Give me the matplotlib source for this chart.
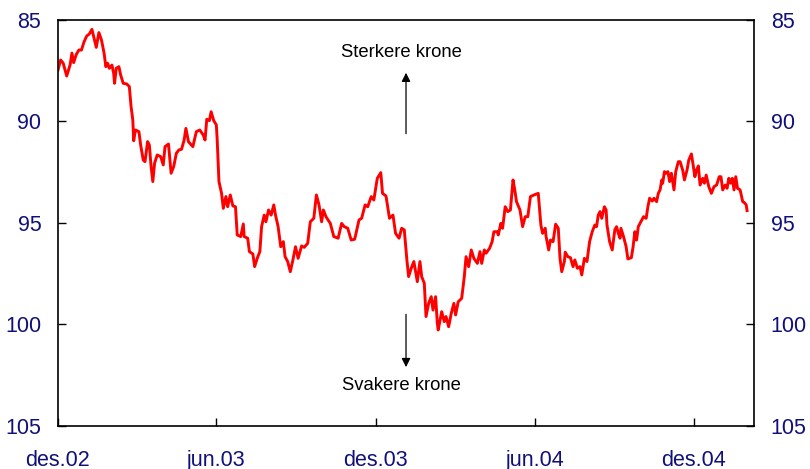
import pandas as pd
import matplotlib
matplotlib.use("Agg")
import matplotlib.pyplot as plt

plt.rcParams['font.family'] = ['Liberation Sans', 'DejaVu Sans']

# Kronekurs (indeks), lest av fra figuren
dates = [
    "2002-12-01", "2002-12-04", "2002-12-07", "2002-12-11", "2002-12-15", "2002-12-17",
    "2002-12-19", "2002-12-22", "2002-12-25", "2002-12-28", "2002-12-31", "2003-01-03",
    "2003-01-06", "2003-01-09", "2003-01-11", "2003-01-14", "2003-01-17", "2003-01-20",
    "2003-01-23", "2003-01-25", "2003-01-27", "2003-01-29", "2003-02-01", "2003-02-03",
    "2003-02-04", "2003-02-06", "2003-02-09", "2003-02-11", "2003-02-14", "2003-02-18",
    "2003-02-21", "2003-02-23", "2003-02-25", "2003-02-26", "2003-02-28", "2003-03-04",
    "2003-03-06", "2003-03-09", "2003-03-11", "2003-03-14", "2003-03-16", "2003-03-18",
    "2003-03-20", "2003-03-22", "2003-03-25", "2003-03-29", "2003-04-01", "2003-04-03",
    "2003-04-07", "2003-04-10", "2003-04-13", "2003-04-16", "2003-04-19", "2003-04-22",
    "2003-04-25", "2003-04-27", "2003-04-30", "2003-05-05", "2003-05-09", "2003-05-13",
    "2003-05-17", "2003-05-19", "2003-05-21", "2003-05-24", "2003-05-26", "2003-05-29",
    "2003-06-01", "2003-06-02", "2003-06-04", "2003-06-07", "2003-06-09", "2003-06-12",
    "2003-06-14", "2003-06-17", "2003-06-20", "2003-06-23", "2003-06-25", "2003-06-29",
    "2003-07-02", "2003-07-03", "2003-07-07", "2003-07-09", "2003-07-13", "2003-07-15",
    "2003-07-18", "2003-07-21", "2003-07-23", "2003-07-26", "2003-07-28", "2003-07-31",
    "2003-08-03", "2003-08-06", "2003-08-08", "2003-08-11", "2003-08-14", "2003-08-17",
    "2003-08-19", "2003-08-22", "2003-08-25", "2003-08-28", "2003-08-31", "2003-09-03",
    "2003-09-07", "2003-09-10", "2003-09-14", "2003-09-17", "2003-09-21", "2003-09-24",
    "2003-09-27", "2003-09-30", "2003-10-02", "2003-10-05", "2003-10-10", "2003-10-14",
    "2003-10-19", "2003-10-23", "2003-10-26", "2003-10-30", "2003-11-03", "2003-11-07",
    "2003-11-12", "2003-11-15", "2003-11-19", "2003-11-22", "2003-11-26", "2003-11-29",
    "2003-12-03", "2003-12-07", "2003-12-09", "2003-12-13", "2003-12-17", "2003-12-21",
    "2003-12-24", "2003-12-28", "2003-12-31", "2004-01-03", "2004-01-06", "2004-01-08",
    "2004-01-11", "2004-01-14", "2004-01-18", "2004-01-21", "2004-01-23", "2004-01-26",
    "2004-01-28", "2004-01-31", "2004-02-03", "2004-02-05", "2004-02-08", "2004-02-10",
    "2004-02-11", "2004-02-15", "2004-02-18", "2004-02-20", "2004-02-23", "2004-02-26",
    "2004-02-29", "2004-03-02", "2004-03-05", "2004-03-09", "2004-03-12", "2004-03-14",
    "2004-03-17", "2004-03-20", "2004-03-23", "2004-03-27", "2004-03-30", "2004-04-01",
    "2004-04-04", "2004-04-06", "2004-04-10", "2004-04-13", "2004-04-15", "2004-04-19",
    "2004-04-20", "2004-04-23", "2004-04-25", "2004-04-28", "2004-05-01", "2004-05-04",
    "2004-05-07", "2004-05-09", "2004-05-11", "2004-05-15", "2004-05-18", "2004-05-21",
    "2004-05-24", "2004-05-27", "2004-05-31", "2004-06-05", "2004-06-08", "2004-06-10",
    "2004-06-13", "2004-06-14", "2004-06-17", "2004-06-19", "2004-06-22", "2004-06-25",
    "2004-06-28", "2004-06-30", "2004-07-02", "2004-07-05", "2004-07-06", "2004-07-09",
    "2004-07-12", "2004-07-15", "2004-07-17", "2004-07-20", "2004-07-23", "2004-07-25",
    "2004-07-28", "2004-07-31", "2004-08-03", "2004-08-06", "2004-08-09", "2004-08-11",
    "2004-08-13", "2004-08-15", "2004-08-17", "2004-08-20", "2004-08-22", "2004-08-23",
    "2004-08-26", "2004-08-29", "2004-09-01", "2004-09-03", "2004-09-05", "2004-09-07",
    "2004-09-08", "2004-09-11", "2004-09-14", "2004-09-16", "2004-09-20", "2004-09-22",
    "2004-09-24", "2004-09-26", "2004-09-28", "2004-10-01", "2004-10-04", "2004-10-07",
    "2004-10-09", "2004-10-11", "2004-10-14", "2004-10-16", "2004-10-19", "2004-10-21",
    "2004-10-23", "2004-10-25", "2004-10-26", "2004-10-28", "2004-10-30", "2004-11-01",
    "2004-11-03", "2004-11-05", "2004-11-08", "2004-11-10", "2004-11-13", "2004-11-15",
    "2004-11-18", "2004-11-20", "2004-11-23", "2004-11-25", "2004-11-28", "2004-11-30",
    "2004-12-02", "2004-12-04", "2004-12-06", "2004-12-08", "2004-12-11", "2004-12-13",
    "2004-12-15", "2004-12-18", "2004-12-21", "2004-12-24", "2004-12-27", "2004-12-30",
    "2005-01-01", "2005-01-03", "2005-01-06", "2005-01-08", "2005-01-10", "2005-01-12",
    "2005-01-14", "2005-01-16", "2005-01-18", "2005-01-20", "2005-01-23", "2005-01-26",
    "2005-01-28", "2005-01-30", "2005-01-31",
]
values = [
    87.46, 86.97, 87.13, 87.76, 87.20, 86.63,
    87.10, 86.70, 86.48, 86.48, 86.07, 85.79,
    85.69, 85.46, 85.82, 86.35, 85.62, 85.99,
    86.64, 87.30, 87.13, 87.38, 87.22, 87.63,
    88.12, 87.38, 87.30, 87.71, 88.12, 88.15,
    88.28, 89.27, 89.93, 90.95, 90.42, 90.50,
    91.16, 91.90, 91.98, 90.99, 91.16, 92.22,
    92.96, 92.06, 91.65, 91.73, 92.14, 91.24,
    91.11, 92.55, 92.22, 91.57, 91.40, 91.37,
    90.91, 90.34, 91.00, 91.24, 90.50, 90.42,
    90.67, 90.91, 89.89, 89.96, 89.52, 89.96,
    90.17, 90.91, 92.96, 93.54, 94.28, 93.70,
    94.20, 93.62, 94.16, 94.20, 95.59, 95.67,
    95.05, 95.67, 95.75, 96.41, 96.53, 97.15,
    96.74, 96.41, 95.18, 94.61, 94.94, 94.36,
    94.61, 94.11, 94.61, 95.18, 96.17, 95.92,
    96.66, 96.90, 97.40, 96.82, 96.17, 96.74,
    96.13, 96.20, 96.00, 94.94, 94.77, 93.62,
    94.11, 94.94, 94.36, 94.69, 95.02, 95.67,
    95.75, 95.02, 95.18, 95.26, 95.84, 95.80,
    94.85, 94.77, 94.11, 94.20, 93.70, 93.87,
    92.80, 92.52, 93.54, 93.67, 94.77, 94.61,
    95.51, 95.75, 95.26, 95.34, 96.82, 97.64,
    97.23, 96.90, 97.89, 96.90, 97.64, 97.97,
    99.61, 98.96, 98.63, 99.29, 98.63, 99.94,
    100.27, 99.37, 99.86, 99.61, 100.11, 99.45,
    98.96, 99.53, 98.88, 98.71, 97.64, 96.66,
    97.15, 96.33, 96.74, 96.99, 96.41, 96.99,
    96.33, 96.49, 96.25, 95.92, 95.43, 95.43,
    95.59, 95.02, 95.26, 94.20, 94.44, 94.36,
    92.88, 93.37, 93.95, 94.36, 95.18, 94.69,
    94.69, 93.70, 93.62, 93.54, 95.10, 95.51,
    95.26, 95.67, 96.33, 95.84, 95.92, 95.06,
    95.26, 96.74, 97.40, 96.90, 96.44, 96.66,
    96.71, 97.15, 96.82, 97.23, 97.15, 97.56,
    96.74, 96.90, 95.92, 95.43, 95.10, 95.18,
    94.61, 94.44, 94.77, 94.20, 94.36, 95.10,
    95.92, 96.33, 95.34, 95.18, 95.51, 95.75,
    95.26, 95.67, 96.17, 96.77, 96.71, 96.17,
    95.43, 95.84, 95.18, 94.94, 94.69, 94.77,
    94.20, 93.78, 93.92, 93.78, 93.95, 93.54,
    93.37, 92.88, 93.04, 92.47, 92.55, 92.47,
    92.96, 92.55, 93.37, 92.47, 91.98, 91.98,
    92.39, 92.88, 92.39, 91.90, 91.60, 92.14,
    92.72, 92.39, 92.19, 93.13, 92.80, 93.04,
    92.64, 93.21, 93.54, 93.21, 93.13, 92.72,
    92.72, 93.37, 93.13, 93.29, 92.80, 93.04,
    92.80, 93.37, 92.72, 93.29, 93.37, 93.95,
    94.00, 94.11, 94.39,
]

tick_dates = ["2002-12-01", "2003-06-01", "2003-12-01", "2004-06-01", "2004-12-01"]
tick_labels = ["des.02", "jun.03", "des.03", "jun.04", "des.04"]
y_ticks = [85, 90, 95, 100, 105]

navy = "#10107a"

fig = plt.figure(figsize=(8.1, 4.69), dpi=100)
ax = fig.add_axes([0.0716, 0.0917, 0.8593, 0.8657])

x = pd.to_datetime(dates)
ax.plot(x, values, color="#ff0000", lw=2.1, solid_joinstyle="round")

ax.set_ylim(105, 85)
ax.set_yticks(y_ticks)
ax.set_xlim(pd.Timestamp("2002-12-01"), pd.Timestamp("2005-02-08"))
ax.set_xticks(pd.to_datetime(tick_dates))
ax.set_xticklabels(tick_labels)

ax.tick_params(axis="y", direction="in", length=6, width=1, labelsize=15.5,
               labelcolor=navy, left=True, right=True, labelleft=True,
               labelright=True, pad=12)
ax.tick_params(axis="x", direction="in", length=6, width=1, labelsize=15.5,
               labelcolor=navy, top=False, pad=17)
for sp in ax.spines.values():
    sp.set_linewidth(1.2)
    sp.set_color("black")

# Piler og tekst
arrow_x = pd.Timestamp("2004-01-05")
ax.annotate("", xy=(arrow_x, 87.6), xytext=(arrow_x, 90.6),
            arrowprops=dict(arrowstyle="-|>", color="black", lw=0.9,
                            mutation_scale=13, shrinkA=0, shrinkB=0))
ax.annotate("", xy=(arrow_x, 102.1), xytext=(arrow_x, 99.5),
            arrowprops=dict(arrowstyle="-|>", color="black", lw=0.9,
                            mutation_scale=13, shrinkA=0, shrinkB=0))
ax.text(pd.Timestamp("2003-12-31"), 86.6, "Sterkere krone", ha="center",
        va="center", fontsize=13.3, color="black")
ax.text(pd.Timestamp("2003-12-31"), 103.0, "Svakere krone", ha="center",
        va="center", fontsize=13.3, color="black")

fig.savefig("out.png", dpi=100)
